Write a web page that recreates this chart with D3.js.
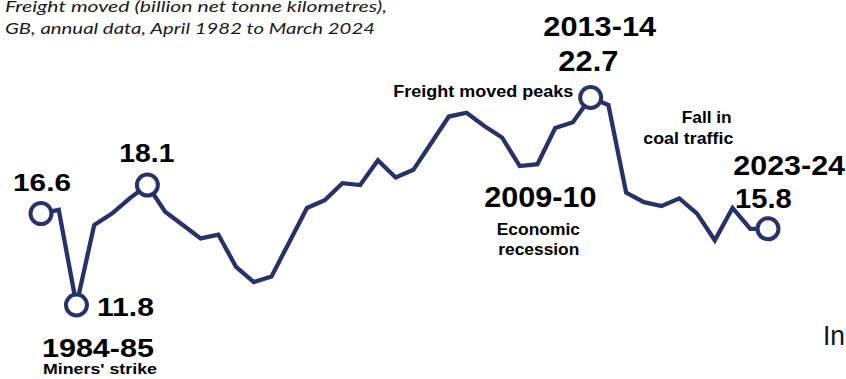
<!DOCTYPE html>
<html>
<head>
<meta charset="utf-8">
<script src="https://cdn.jsdelivr.net/npm/d3@7"></script>
<style>
  html, body { margin: 0; padding: 0; background: #fff; }
  svg { display: block; }
</style>
</head>
<body>
<svg id="chart" width="846" height="379"></svg>
<script>
// Financial years, April to March
const years = [
  "1982-83","1983-84","1984-85","1985-86","1986-87","1987-88","1988-89","1989-90",
  "1990-91","1991-92","1992-93","1993-94","1994-95","1995-96","1996-97","1997-98",
  "1998-99","1999-00","2000-01","2001-02","2002-03","2003-04","2004-05","2005-06",
  "2006-07","2007-08","2008-09","2009-10","2010-11","2011-12","2012-13","2013-14",
  "2014-15","2015-16","2016-17","2017-18","2018-19","2019-20","2020-21","2021-22",
  "2022-23","2023-24"
];

// Freight moved, billion net tonne kilometres
const freight = [
  16.6, 16.8, 11.8, 16.0, 16.6, 17.4, 18.1, 16.7,
  16.0, 15.3, 15.5, 13.8, 13.0, 13.3, 15.1, 16.9,
  17.3, 18.2, 18.1, 19.4, 18.5, 18.9, 20.3, 21.7,
  21.9, 21.2, 20.6, 19.1, 19.2, 21.1, 21.4, 22.7,
  22.3, 17.7, 17.2, 17.0, 17.4, 16.6, 15.2, 16.9,
  15.8, 15.8
];

// Years picked out with a ringed marker
const highlighted = ["1982-83", "1984-85", "1988-89", "2013-14", "2023-24"];

const navy = "#26336b";
const svg = d3.select("#chart");

const x = d3.scalePoint().domain(years).range([41, 768]);
const y = d3.scaleLinear().domain([11.8, 22.7]).range([305, 97.5]);

const data = years.map((yr, i) => ({ year: yr, value: freight[i] }));

svg.append("path")
  .datum(data)
  .attr("fill", "none")
  .attr("stroke", navy)
  .attr("stroke-width", 4.3)
  .attr("stroke-linejoin", "miter")
  .attr("d", d3.line().x(d => x(d.year)).y(d => y(d.value)));

svg.selectAll("circle.marker")
  .data(data.filter(d => highlighted.includes(d.year)))
  .join("circle")
  .attr("class", "marker")
  .attr("cx", d => x(d.year))
  .attr("cy", d => y(d.value))
  .attr("r", 10.5)
  .attr("fill", "#fff")
  .attr("stroke", navy)
  .attr("stroke-width", 4);

// Text helper: left-anchored at (lx, by), stretched to a fixed width
function label(txt, lx, by, size, width, opts = {}) {
  const t = svg.append("text")
    .attr("x", lx)
    .attr("y", by)
    .attr("font-family", opts.family || "'Liberation Sans', Arial, sans-serif")
    .attr("font-size", size)
    .attr("font-weight", opts.weight || "bold")
    .attr("font-style", opts.style || "normal")
    .attr("fill", opts.fill || "#000")
    .text(txt);
  if (width) t.attr("textLength", width).attr("lengthAdjust", "spacingAndGlyphs");
  return t;
}

const fmt = d3.format(".1f");
const val = yr => fmt(freight[years.indexOf(yr)]);
const px = yr => x(yr);

// Title
label("Freight moved (billion net tonne kilometres),", 5, 11.7, 14.5, 382,
  { family: "Lato, 'Open Sans', sans-serif", weight: "normal", style: "italic", fill: "#1a1a1a" });
label("GB, annual data, April 1982 to March 2024", 5, 34.3, 14.5, 370,
  { family: "Lato, 'Open Sans', sans-serif", weight: "normal", style: "italic", fill: "#1a1a1a" });

// 1982-83 start
label(val("1982-83"), px("1982-83") - 28, 190.7, 24.5, 58);

// 1984-85 miners' strike
label(val("1984-85"), px("1984-85") + 20.5, 315.7, 26.5, 57);
label("1984-85", px("1984-85") - 34.5, 356.7, 25.6, 112);
label("Miners' strike", px("1984-85") - 33.5, 374, 15.4, 114);

// 1988-89
label(val("1988-89"), px("1988-89") - 28, 161.7, 25.7, 55);

// 2009-10 economic recession
label("2009-10", px("2009-10") - 35.5, 206.7, 28.9, 112.3);
label("Economic", 496.7, 235, 16.3, 83.3);
label("recession", 498.3, 255, 16.3, 81);

// 2013-14 peak
label("2013-14", px("2013-14") - 47.3, 36, 27, 112.7);
label(val("2013-14"), px("2013-14") - 32.3, 70.7, 28.9, 60);
label("Freight moved peaks", 393.3, 96.7, 16.3, 180);

// Fall in coal traffic
label("Fall in", 681.7, 123.3, 16.2, 50);
label("coal traffic", 643.3, 144.3, 16.2, 90);

// 2023-24 latest
label("2023-24", px("2023-24") - 34.7, 175, 27.9, 111.7);
label(val("2023-24"), px("2023-24") - 33, 208.3, 27.9, 56.7);

// Trailing text at the right edge
label("In", 823, 345, 28, 22, { weight: "normal", fill: "#111" });
</script>
</body>
</html>
